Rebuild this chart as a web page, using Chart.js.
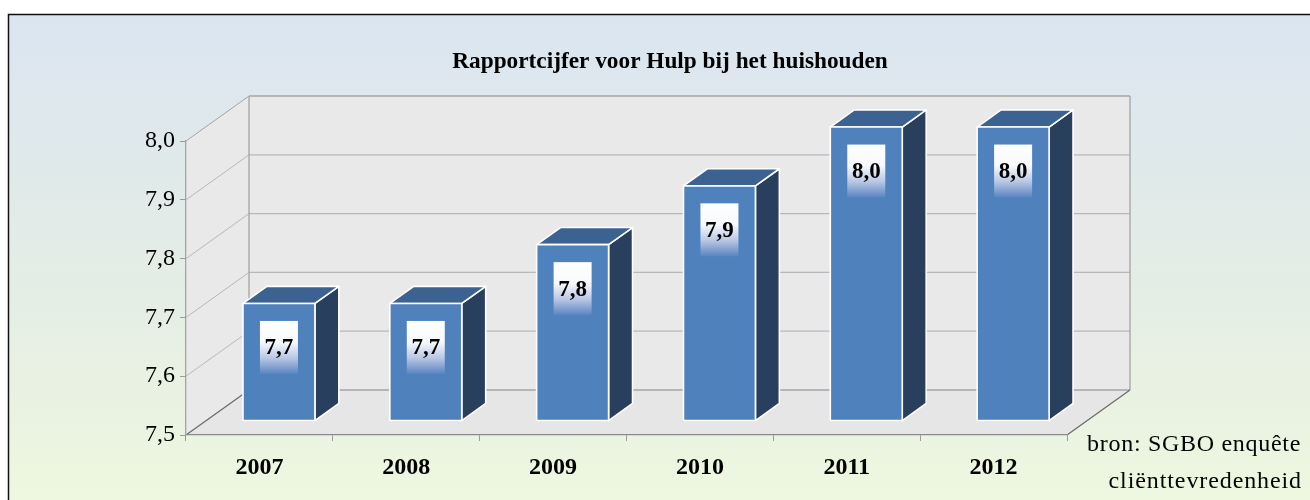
<!DOCTYPE html>
<html>
<head>
<meta charset="utf-8">
<script src="https://cdn.jsdelivr.net/npm/chart.js@4.4.1/dist/chart.umd.min.js"></script>
<style>
  html, body { margin: 0; padding: 0; background: #ffffff; }
  canvas { display: block; }
</style>
</head>
<body>
<canvas id="chart" width="1310" height="500"></canvas>
<script>
// ---- data ----
const years = ['2007', '2008', '2009', '2010', '2011', '2012'];
const scores = [7.7, 7.7, 7.8, 7.9, 8.0, 8.0];
const yTickValues = [7.5, 7.6, 7.7, 7.8, 7.9, 8.0];
const chartTitle = 'Rapportcijfer voor Hulp bij het huishouden';
const sourceLines = ['bron: SGBO enquête', 'cliënttevredenheid'];

// ---- styling ----
const FONT = '"Liberation Serif", "Times New Roman", serif';
const DEPTH = { dx: 63, dy: -45 };     // 3D depth of the plot box
const BAR_FRONT = 0.31;                // bar front face position in depth
const BAR_DEPTH = 0.38;                // bar depth fraction
const COLORS = {
  front: '#4f81bd', top: '#3c6291', side: '#283f5e',
  wall: '#e9e9e9', floor: '#e6e6e6', grid: '#b8b8b8', edge: '#a4a4a4', dark: '#6a6a6a'
};
const fmt = v => Number(v).toFixed(1).replace('.', ',');

const scenePlugin = {
  id: 'scene3d',
  beforeDraw(chart) {
    const ctx = chart.ctx, ca = chart.chartArea, ys = chart.scales.y;
    const W = chart.width, H = chart.height;
    ctx.save();
    // background frame
    ctx.fillStyle = '#ffffff';
    ctx.fillRect(0, 0, W, H);
    const g = ctx.createLinearGradient(0, 14, 0, H);
    g.addColorStop(0, '#dbe5f1');
    g.addColorStop(0.55, '#e4ede5');
    g.addColorStop(1, '#eef7df');
    ctx.fillStyle = g;
    ctx.fillRect(8, 14, W - 8, H - 14);
    ctx.strokeStyle = '#111111';
    ctx.lineWidth = 1.5;
    ctx.beginPath();
    ctx.moveTo(8.5, H); ctx.lineTo(8.5, 14.5); ctx.lineTo(W, 14.5);
    ctx.stroke();

    const L = ca.left, R = ca.right, T = ca.top, B = ca.bottom;
    const dx = DEPTH.dx, dy = DEPTH.dy;
    // left wall
    ctx.fillStyle = COLORS.wall;
    ctx.beginPath();
    ctx.moveTo(L, T); ctx.lineTo(L + dx, T + dy); ctx.lineTo(L + dx, B + dy); ctx.lineTo(L, B);
    ctx.closePath(); ctx.fill();
    // back wall
    ctx.fillRect(L + dx, T + dy, R - L, B - T);
    // floor
    ctx.fillStyle = COLORS.floor;
    ctx.beginPath();
    ctx.moveTo(L, B); ctx.lineTo(R, B); ctx.lineTo(R + dx, B + dy); ctx.lineTo(L + dx, B + dy);
    ctx.closePath(); ctx.fill();

    // gridlines
    ctx.lineWidth = 1.3;
    yTickValues.forEach(v => {
      const py = ys.getPixelForValue(v);
      ctx.strokeStyle = (v === yTickValues[0] || v === yTickValues[yTickValues.length - 1]) ? COLORS.edge : COLORS.grid;
      ctx.beginPath();
      ctx.moveTo(L + dx, py + dy); ctx.lineTo(R + dx, py + dy);
      ctx.stroke();
      if (v !== yTickValues[0]) {
        ctx.lineWidth = 1;
        ctx.beginPath();
        ctx.moveTo(L, py); ctx.lineTo(L + dx, py + dy);
        ctx.stroke();
        ctx.lineWidth = 1.3;
      }
    });
    // outline edges
    ctx.strokeStyle = COLORS.edge;
    ctx.lineWidth = 1.3;
    ctx.beginPath();
    ctx.moveTo(L + dx, B + dy); ctx.lineTo(L + dx, T + dy);
    ctx.moveTo(R + dx, T + dy); ctx.lineTo(R + dx, B + dy);
    ctx.stroke();
    ctx.strokeStyle = COLORS.dark;
    ctx.lineWidth = 1.2;
    ctx.beginPath();
    ctx.moveTo(L, B); ctx.lineTo(L + dx, B + dy);
    ctx.moveTo(R, B); ctx.lineTo(R + dx, B + dy);
    ctx.stroke();
    ctx.restore();
  },
  afterDatasetsDraw(chart) {
    const ctx = chart.ctx;
    const ys = chart.scales.y;
    const meta = chart.getDatasetMeta(0);
    const fx = DEPTH.dx * BAR_FRONT, fy = DEPTH.dy * BAR_FRONT;
    const bx = DEPTH.dx * BAR_DEPTH, by = DEPTH.dy * BAR_DEPTH;
    const floorPx = ys.getPixelForValue(yTickValues[0]);
    ctx.save();
    ctx.lineJoin = 'round';
    meta.data.forEach((el, i) => {
      const p = el.getProps(['x', 'y', 'base', 'width'], true);
      const left = p.x - p.width / 2 + fx, right = p.x + p.width / 2 + fx;
      const top = p.y + fy, bottom = Math.min(p.base, floorPx) + fy;
      ctx.strokeStyle = '#ffffff';
      ctx.lineWidth = 1.6;
      // side
      ctx.fillStyle = COLORS.side;
      ctx.beginPath();
      ctx.moveTo(right, top); ctx.lineTo(right + bx, top + by);
      ctx.lineTo(right + bx, bottom + by); ctx.lineTo(right, bottom);
      ctx.closePath(); ctx.fill(); ctx.stroke();
      // top
      ctx.fillStyle = COLORS.top;
      ctx.beginPath();
      ctx.moveTo(left, top); ctx.lineTo(left + bx, top + by);
      ctx.lineTo(right + bx, top + by); ctx.lineTo(right, top);
      ctx.closePath(); ctx.fill(); ctx.stroke();
      // front
      ctx.fillStyle = COLORS.front;
      ctx.beginPath();
      ctx.rect(left, top, right - left, bottom - top);
      ctx.fill(); ctx.stroke();

      // value label box
      const cx = (left + right) / 2, cy = top + 44;
      const bw = 38, bh = 53;
      const lg = ctx.createLinearGradient(0, cy - bh / 2, 0, cy + bh / 2);
      lg.addColorStop(0, '#ffffff');
      lg.addColorStop(0.4, '#f7f9fc');
      lg.addColorStop(0.7, '#b8c7e4');
      lg.addColorStop(1, '#5a84c1');
      ctx.fillStyle = lg;
      ctx.fillRect(cx - bw / 2, cy - bh / 2, bw, bh);
      ctx.fillStyle = '#000000';
      ctx.font = 'bold 23px ' + FONT;
      ctx.textAlign = 'center';
      ctx.textBaseline = 'middle';
      ctx.fillText(fmt(scores[i]), cx, cy + 1);
    });
    ctx.restore();
  },
  afterDraw(chart) {
    const ctx = chart.ctx;
    ctx.save();
    ctx.fillStyle = '#000000';
    ctx.textBaseline = 'alphabetic';
    ctx.font = 'bold 23.3px ' + FONT;
    ctx.textAlign = 'center';
    ctx.fillText(chartTitle, 670, 67.5);
    ctx.font = '24px ' + FONT;
    ctx.textAlign = 'right';
    try { ctx.letterSpacing = '0.7px'; } catch (e) {}
    ctx.fillText(sourceLines[0], 1301, 451);
    try { ctx.letterSpacing = '0.9px'; } catch (e) {}
    ctx.fillText(sourceLines[1], 1302, 488);
    try { ctx.letterSpacing = '0px'; } catch (e) {}
    ctx.restore();
  }
};

new Chart(document.getElementById('chart'), {
  type: 'bar',
  data: {
    labels: years,
    datasets: [{
      label: 'Rapportcijfer',
      data: scores,
      base: yTickValues[0],
      backgroundColor: 'rgba(0,0,0,0)',
      borderWidth: 0,
      barPercentage: 0.49,
      categoryPercentage: 1.0
    }]
  },
  options: {
    responsive: false,
    animation: false,
    events: [],
    layout: { padding: { top: 141, right: 243, bottom: 0, left: 0 } },
    plugins: {
      legend: { display: false },
      title: { display: false },
      tooltip: { enabled: false }
    },
    scales: {
      x: {
        offset: true,
        grid: { display: true, drawOnChartArea: false, drawTicks: true, tickLength: 6, color: '#9a9a9a', offset: true },
        border: { display: true, color: '#8a8a8a', width: 1.3 },
        ticks: { color: '#000000', font: { family: FONT, size: 24, weight: 'bold' }, padding: 12, maxRotation: 0 },
        afterFit(s) { s.height = 65; }
      },
      y: {
        min: 7.5,
        max: 8.0,
        afterBuildTicks(s) { s.ticks = yTickValues.map(v => ({ value: v })); },
        grid: { display: true, drawOnChartArea: false, drawTicks: true, tickLength: 6, color: '#9a9a9a' },
        border: { display: true, color: '#a4a4a4', width: 1.3 },
        ticks: { color: '#000000', font: { family: FONT, size: 24 }, padding: 5, callback: v => fmt(v) },
        afterFit(s) { s.width = 186; }
      }
    }
  },
  plugins: [scenePlugin]
});
</script>
</body>
</html>
